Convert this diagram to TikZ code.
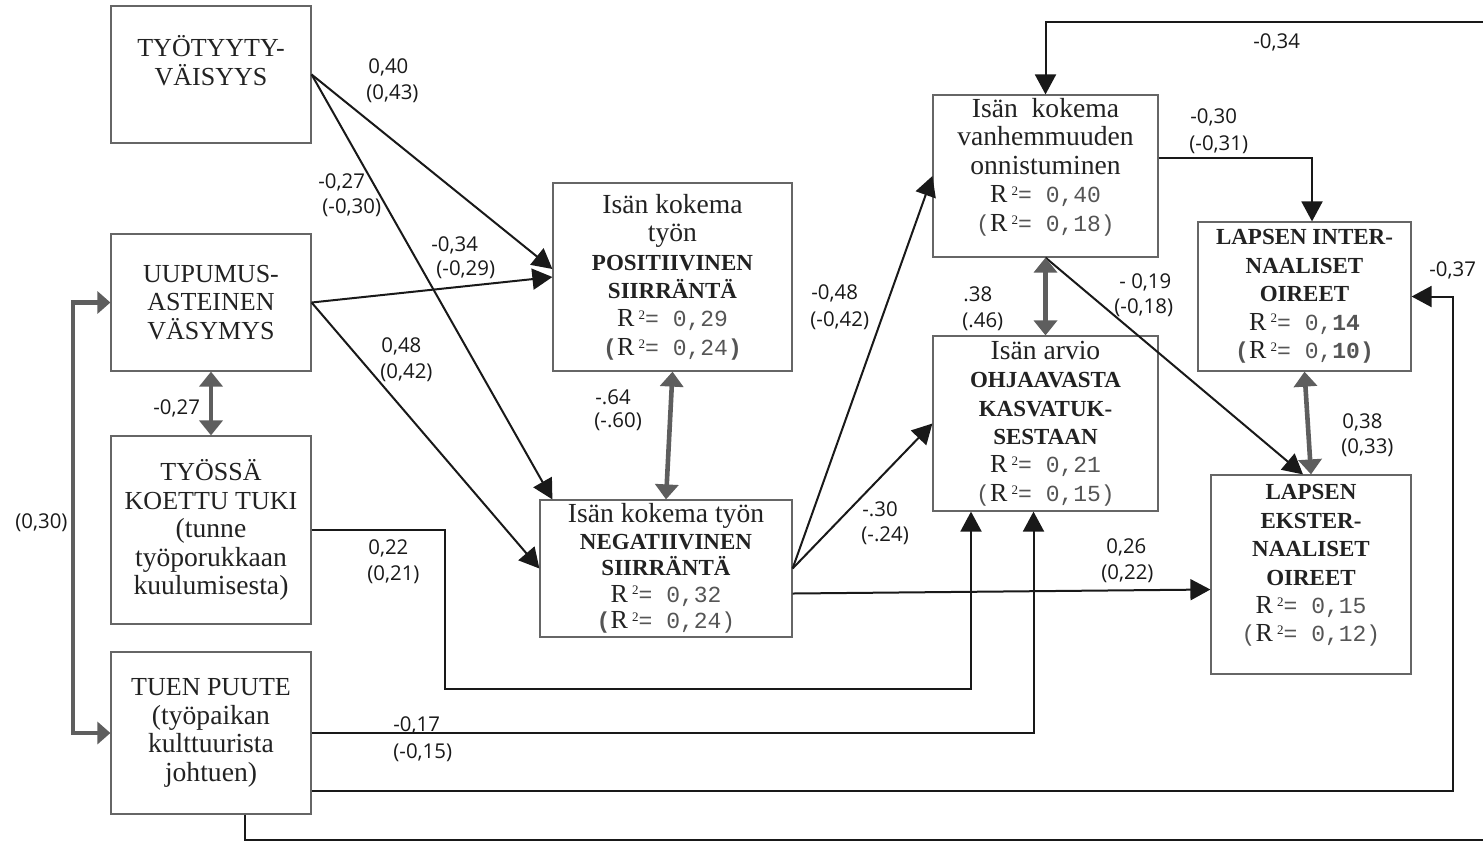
\documentclass[tikz,border=0pt]{standalone}
\usepackage{fontspec}
\setmainfont{Liberation Serif}
\setmonofont{Liberation Mono}
\newfontfamily\labfont{Open Sans}
\usetikzlibrary{arrows.meta,calc}
\definecolor{garrow}{HTML}{5E5E5E}
\definecolor{boxline}{HTML}{666666}
\definecolor{monoc}{HTML}{555555}
\definecolor{txt}{HTML}{222222}
\newcommand{\Rsq}[1]{R\,\raisebox{0.6ex}{\fontsize{6.5}{6.5}\selectfont 2}{\fontsize{11.5}{14.2}\selectfont\ttfamily\color{monoc}#1}}
\newcommand{\Mo}[1]{{\fontsize{11.5}{14.2}\selectfont\ttfamily\color{monoc}#1}}
\newcommand{\bc}[1]{{\fontsize{11.5}{14.2}\selectfont\bfseries #1}}
\newcommand{\lc}[1]{{\fontsize{13.8}{14.2}\selectfont #1}}
\begin{document}
\begin{tikzpicture}[x=0.5pt,y=-0.5pt,
  box/.style={draw=boxline,line width=0.6pt,rectangle,inner sep=0pt,align=center,text=txt,font=\fontsize{13}{14.2}\selectfont},
  arr/.style={line width=1pt,black!90,-{Triangle[length=10pt,width=10.5pt]}},
  garr/.style={line width=2.3pt,garrow,{Triangle[length=7.5pt,width=11.5pt]}-{Triangle[length=7.5pt,width=11.5pt]}},
  garrb/.style={line width=2.2pt,garrow,{Triangle[length=6.5pt,width=11pt]}-{Triangle[length=6.5pt,width=11pt]}},
  lab/.style={font=\labfont\fontsize{10.2}{12}\selectfont,anchor=west,inner sep=0pt,text=black!90}
]
\clip (0,0) rectangle (1483,843);
\fill[white] (0,0) rectangle (1483,843);

% boxes
\node[box,minimum width=100pt,minimum height=68.5pt] (tyo) at (211,74.5) {TYÖTYYTY-\\VÄISYYS\\\mbox{}};
\node[box,minimum width=100pt,minimum height=68.5pt] (uup) at (211,302.5) {UUPUMUS-\\ASTEINEN\\VÄSYMYS};
\node[box,minimum width=100pt,minimum height=94pt] (tuki) at (211,530) {TYÖSSÄ\\KOETTU TUKI\\\lc{(tunne}\\\lc{työporukkaan}\\\lc{kuulumisesta)}};
\node[box,minimum width=100pt,minimum height=81pt] (tuen) at (211,733) {TUEN PUUTE\\\lc{(työpaikan}\\\lc{kulttuurista}\\\lc{johtuen)}};
\node[box,minimum width=119.5pt,minimum height=94pt] (pos) at (672.5,277) {\lc{Isän kokema}\\\lc{työn}\\\bc{POSITIIVINEN}\\\bc{SIIRRÄNTÄ}\\\Rsq{= 0,29}\\\Mo{\textbf{(}}\Rsq{= 0,24\textbf{)}}};
\node[box,minimum width=126pt,minimum height=68.5pt,font=\fontsize{13}{13.2}\selectfont] (neg) at (666,568.5) {\lc{Isän kokema työn}\\\bc{NEGATIIVINEN}\\\bc{SIIRRÄNTÄ}\\\Rsq{= 0,32}\\\Mo{\textbf{(}}\Rsq{= 0,24)}};
\node[box,minimum width=112.5pt,minimum height=81pt] (vanh) at (1045.5,176) {\lc{Isän\ \ kokema}\\\lc{vanhemmuuden}\\\lc{onnistuminen}\\\Rsq{= 0,40}\\\Mo{(}\Rsq{= 0,18)}\\[-3pt]\mbox{}};
\node[box,minimum width=112.5pt,minimum height=87.5pt] (ohj) at (1045.5,423.5) {\lc{Isän arvio}\\\bc{OHJAAVASTA}\\\bc{KASVATUK-}\\\bc{SESTAAN}\\\Rsq{= 0,21}\\\Mo{(}\Rsq{= 0,15)}};
\node[box,minimum width=106.5pt,minimum height=74.5pt] (inter) at (1304.5,296.5) {\bc{LAPSEN INTER-}\\\bc{NAALISET}\\\bc{OIREET}\\\Rsq{= 0,\textbf{14}}\\\Mo{\textbf{(}}\Rsq{= 0,\textbf{10)}}};
\node[box,minimum width=100pt,minimum height=99.5pt] (ekst) at (1311,574.5) {\bc{LAPSEN}\\\bc{EKSTER-}\\\bc{NAALISET}\\\bc{OIREET}\\\Rsq{= 0,15}\\\Mo{(}\Rsq{= 0,12)}\\[-3pt]\mbox{}};

% helper coordinates
\coordinate (k1) at (445,689);
\coordinate (k2) at (1453,791);
\coordinate (k3) at (245,840);
\coordinate (k4) at (1500,840);
\coordinate (k5) at (1500,22);
\coordinate (k6) at (73,500);

% black arrows
\draw[arr] (tyo.east) -- ($(pos.west)+(0,-8)$);
\draw[arr] (tyo.east) -- ($(neg.north west)+(13,0)$);
\draw[arr] (uup.east) -- (pos.west);
\draw[arr] (uup.east) -- (neg.west);
\draw[arr] (neg.east) -- (vanh.west);
\draw[arr] (neg.east) -- (ohj.west);
\draw[arr] ($(neg.east)+(0,25)$) -- ($(ekst.west)+(0,15)$);
\draw[arr] (tuki.east) -| (k1) -| ($(ohj.south)+(-74.5,0)$);
\draw[arr] (tuen.east) -| ($(ohj.south)+(-12,0)$);
\draw[arr] ($(tuen.east)+(0,58)$) -- (k2) |- (inter.east);
\draw[arr] ($(tuen.south)+(34,0)$) -- (k3) -- (k4) -- (k5) -| (vanh.north);
\draw[arr] ($(vanh.east)+(0,-18)$) -| ($(inter.north)+(7.5,0)$);
\draw[arr] (vanh.south) -- ($(ekst.north)+(-8,0)$);

% grey double arrows
\draw[garr] (uup.south) -- (tuki.north);
\draw[garr] (pos.south) -- (neg.north);
\draw[garr] (vanh.south) -- (ohj.north);
\draw[garr] (inter.south) -- (ekst.north);
\draw[garrb] (uup.west) -| (k6) |- (tuen.west);

% labels
\node[lab] (a1) at (368,67) {0,40};
\node[lab] (a2) at (366,94) {(0,43)};
\node[lab] (b1) at (318,182) {-0,27};
\node[lab] (b2) at (322,208) {(-0,30)};
\node[lab] (c1) at (431,245) {-0,34};
\node[lab] (c2) at (436,270) {(-0,29)};
\node[lab] (d1) at (381,346) {0,48};
\node[lab] (d2) at (380,373) {(0,42)};
\node[lab] (e1) at (153,408) {-0,27};
\node[lab] (f1) at (15,523) {(0,30)};
\node[lab] (g1) at (368,548) {0,22};
\node[lab] (g2) at (367,575) {(0,21)};
\node[lab] (h1) at (393,725) {-0,17};
\node[lab] (h2) at (393,753) {(-0,15)};
\node[lab] (i1) at (595,397) {-.64};
\node[lab] (i2) at (594,422) {(-.60)};
\node[lab] (j1) at (811,293) {-0,48};
\node[lab] (j2) at (810,321) {(-0,42)};
\node[lab] (m38a) at (963,294) {.38};
\node[lab] (m38b) at (962,322) {(.46)};
\node[lab] (m1) at (1119,282) {- 0,19};
\node[lab] (m2) at (1114,308) {(-0,18)};
\node[lab] (n1) at (862,509) {-.30};
\node[lab] (n2) at (861,536) {(-.24)};
\node[lab] (o1) at (1106,547) {0,26};
\node[lab] (o2) at (1101,574) {(0,22)};
\node[lab] (p1) at (1253,42) {-0,34};
\node[lab] (q1) at (1190,117) {-0,30};
\node[lab] (q2) at (1189,145) {(-0,31)};
\node[lab] (r1) at (1429,270) {-0,37};
\node[lab] (s1) at (1342,422) {0,38};
\node[lab] (s2) at (1341,448) {(0,33)};
\end{tikzpicture}
\end{document}
